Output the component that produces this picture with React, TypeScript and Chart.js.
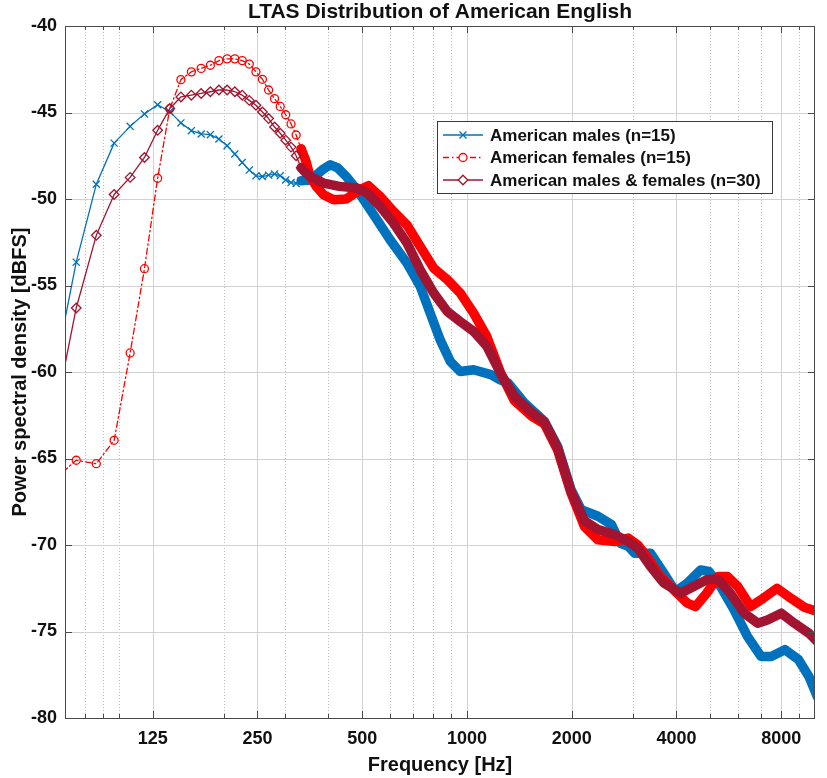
import React, { useEffect, useRef } from 'react';
import { Chart, registerables } from 'chart.js';

Chart.register(...registerables);

const TITLE = 'LTAS Distribution of American English';
const X_LABEL = 'Frequency [Hz]';
const Y_LABEL = 'Power spectral density [dBFS]';
const SERIES_LABELS = [
  'American males (n=15)',
  'American females (n=15)',
  'American males & females (n=30)',
];

const X_MIN = 70;
const X_MAX = 10000;
const Y_MIN = -80;
const Y_MAX = -40;
const X_MAJOR_TICKS = [125, 250, 500, 1000, 2000, 4000, 8000];
const X_MINOR_TICKS = [80, 90, 100, 200, 300, 400, 600, 700, 800, 900, 3000, 5000, 6000, 7000, 9000];
const Y_TICKS = [-80, -75, -70, -65, -60, -55, -50, -45, -40];

// low-frequency FFT bins (markers visible)
const LOW_BINS = [
  64.6, 75.4, 86.1, 96.9, 107.7, 118.4, 129.2, 140.0, 150.7, 161.5, 172.3, 183.1, 193.8,
  204.6, 215.3, 226.1, 236.9, 247.6, 258.4, 269.2, 280.0, 290.7, 301.5, 312.3, 323.0, 333.8,
];

const MALE_LOW_DB = [
  -60.5, -53.65, -49.15, -46.77, -45.8, -45.08, -44.55, -44.95, -45.6, -46.05, -46.24, -46.28, -46.53,
  -46.92, -47.4, -47.89, -48.33, -48.66, -48.7, -48.62, -48.55, -48.66, -48.9, -49.05, -49.1, -48.95,
];
const MALE_HIGH_FREQ = [
  355, 370, 385, 405, 425, 450, 483, 539, 601, 672, 734, 784, 837, 896, 956, 1045, 1172, 1246,
  1311, 1463, 1669, 1822, 1991, 2129, 2379, 2601, 2760, 2907, 3035, 3370, 3677, 3974, 4296, 4696,
  4955, 5357, 5849, 6396, 6995, 7487, 8193, 8970, 9603, 10170,
];
const MALE_HIGH_DB = [
  -48.9, -48.6, -48.3, -48.02, -48.2, -48.7, -49.46, -50.9, -52.35, -53.7, -55.05, -56.6, -58.13,
  -59.39, -59.97, -59.87, -60.15, -60.45, -60.63, -61.79, -62.85, -64.3, -66.8, -67.95, -68.34,
  -68.82, -69.9, -70.07, -70.48, -70.48, -71.63, -72.69, -72.2, -71.44, -71.53, -72.4, -73.74,
  -75.28, -76.44, -76.44, -76.05, -76.63, -77.6, -78.8,
];

const FEMALE_LOW_DB = [
  -66.3, -65.1, -65.3, -63.95, -58.9, -54.03, -48.8, -44.78, -43.1, -42.65, -42.45, -42.27, -42.0,
  -41.9, -41.9, -42.0, -42.2, -42.65, -43.08, -43.7, -44.2, -44.65, -45.13, -45.66, -46.3, -47.1,
];
const FEMALE_HIGH_FREQ = [
  344.5, 354, 370, 387, 414, 450, 493, 521, 563, 615, 672, 734, 802, 878, 956, 1045, 1140, 1252,
  1368, 1527, 1669, 1822, 1991, 2175, 2379, 2659, 2907, 3100, 3286, 3593, 3929, 4296, 4539, 4882,
  5272, 5600, 6000, 6534, 6995, 7780, 8530, 9320, 10170,
];
const FEMALE_HIGH_DB = [
  -47.8, -48.69, -49.3, -49.75, -50.04, -50.0, -49.46, -49.23, -49.85, -50.72, -51.49, -52.74,
  -53.99, -54.66, -55.43, -56.6, -57.94, -60.1, -61.65, -62.52, -63.0, -64.52, -67.0, -68.93,
  -69.7, -69.8, -69.6, -70.0, -70.67, -71.82, -72.6, -73.36, -73.56, -72.79, -71.82, -71.82,
  -72.4, -73.56, -73.17, -72.5, -73.08, -73.6, -73.85,
];

const ALL_LOW_DB = [
  -63.1, -56.3, -52.1, -49.74, -48.75, -47.6, -46.03, -44.77, -44.1, -44.0, -43.9, -43.8, -43.7,
  -43.7, -43.8, -44.0, -44.3, -44.58, -44.97, -45.35, -45.84, -46.2, -46.6, -47.0, -47.5, -48.2,
];
const ALL_HIGH_FREQ = [
  344.5, 354, 387, 430, 483, 517, 563, 615, 672, 734, 802, 878, 956, 1045, 1140, 1250, 1368, 1527,
  1669, 1822, 1991, 2175, 2379, 2659, 2907, 3100, 3370, 3677, 4108, 4482, 4902, 5272, 5716, 6254,
  6845, 7300, 8000, 8722, 9603, 10170,
];
const ALL_HIGH_DB = [
  -48.5, -48.69, -49.08, -49.27, -49.36, -49.65, -50.43, -51.39, -52.54, -54.09, -55.43, -56.5,
  -57.08, -57.65, -58.5, -60.1, -61.4, -62.3, -62.9, -64.4, -66.9, -68.6, -69.1, -69.4, -69.8,
  -70.2, -71.25, -72.2, -72.79, -72.4, -72.0, -72.0, -72.79, -73.94, -74.52, -74.33, -73.94,
  -74.52, -75.1, -75.6,
];

const BLUE = '#0072BD';
const RED = '#FF0000';
const MAROON = '#A2142F';
const FONT = "'Liberation Sans', Arial, Helvetica, sans-serif";
const THIN = 1.3;
const THICK = 9.5;
const MARKER_LIMIT = 340;
const DASH_DOT = [6, 3, 1.5, 3];

function makeDataset(
  label: string,
  freq: number[],
  db: number[],
  color: string,
  pointStyle: string,
  radius: number,
  dashed: boolean,
  order: number,
) {
  return {
    label,
    data: freq.map((f, i) => ({ x: f, y: db[i] })),
    borderColor: color,
    backgroundColor: 'rgba(0,0,0,0)',
    borderWidth: THIN,
    borderJoinStyle: 'round',
    borderCapStyle: 'round',
    pointStyle,
    pointRadius: (c: any) => {
      const f = freq[c.dataIndex];
      return f >= X_MIN && f < MARKER_LIMIT ? radius : 0;
    },
    pointBorderColor: color,
    pointBackgroundColor: 'rgba(0,0,0,0)',
    pointBorderWidth: 1.3,
    segment: {
      borderWidth: (c: any) => (freq[c.p0DataIndex] >= 333 ? THICK : THIN),
      borderDash: (c: any) => (dashed && freq[c.p0DataIndex] < 333 ? DASH_DOT : []),
    },
    tension: 0,
    order,
    clip: 0,
  };
}

function drawMarker(ctx: CanvasRenderingContext2D, kind: string, x: number, y: number, color: string) {
  ctx.save();
  ctx.strokeStyle = color;
  ctx.lineWidth = 1.3;
  ctx.setLineDash([]);
  ctx.beginPath();
  if (kind === 'x') {
    ctx.moveTo(x - 3.5, y - 3.5);
    ctx.lineTo(x + 3.5, y + 3.5);
    ctx.moveTo(x + 3.5, y - 3.5);
    ctx.lineTo(x - 3.5, y + 3.5);
  } else if (kind === 'o') {
    ctx.fillStyle = '#fff';
    ctx.arc(x, y, 4, 0, Math.PI * 2);
    ctx.fill();
  } else {
    ctx.fillStyle = '#fff';
    ctx.moveTo(x - 4.8, y);
    ctx.lineTo(x, y - 4.8);
    ctx.lineTo(x + 4.8, y);
    ctx.lineTo(x, y + 4.8);
    ctx.closePath();
    ctx.fill();
  }
  ctx.stroke();
  ctx.restore();
}

const matlabPlugin = {
  id: 'matlabStyle',
  beforeDatasetsDraw(chart: any) {
    const { ctx, chartArea: a, scales } = chart;
    const xs = scales.x;
    const ys = scales.y;
    ctx.save();
    ctx.lineWidth = 1;
    ctx.strokeStyle = '#bdbdbd';
    ctx.setLineDash([1, 2]);
    for (const v of X_MINOR_TICKS) {
      const px = Math.round(xs.getPixelForValue(v)) + 0.5;
      ctx.beginPath();
      ctx.moveTo(px, a.top);
      ctx.lineTo(px, a.bottom);
      ctx.stroke();
    }
    ctx.setLineDash([]);
    ctx.strokeStyle = '#d2d2d2';
    for (const v of X_MAJOR_TICKS) {
      const px = Math.round(xs.getPixelForValue(v)) + 0.5;
      ctx.beginPath();
      ctx.moveTo(px, a.top);
      ctx.lineTo(px, a.bottom);
      ctx.stroke();
    }
    for (const v of Y_TICKS) {
      const py = Math.round(ys.getPixelForValue(v)) + 0.5;
      ctx.beginPath();
      ctx.moveTo(a.left, py);
      ctx.lineTo(a.right, py);
      ctx.stroke();
    }
    ctx.restore();
  },
  afterDatasetsDraw(chart: any) {
    const { ctx, chartArea: a, scales } = chart;
    const xs = scales.x;
    const ys = scales.y;
    ctx.save();
    ctx.setLineDash([]);
    ctx.lineWidth = 1;
    ctx.strokeStyle = '#4a4a4a';
    // tick marks
    ctx.beginPath();
    for (const v of X_MAJOR_TICKS) {
      const px = Math.round(xs.getPixelForValue(v)) + 0.5;
      ctx.moveTo(px, a.bottom);
      ctx.lineTo(px, a.bottom - 7);
      ctx.moveTo(px, a.top);
      ctx.lineTo(px, a.top + 7);
    }
    for (const v of X_MINOR_TICKS) {
      const px = Math.round(xs.getPixelForValue(v)) + 0.5;
      ctx.moveTo(px, a.bottom);
      ctx.lineTo(px, a.bottom - 4);
      ctx.moveTo(px, a.top);
      ctx.lineTo(px, a.top + 4);
    }
    for (const v of Y_TICKS) {
      const py = Math.round(ys.getPixelForValue(v)) + 0.5;
      ctx.moveTo(a.left, py);
      ctx.lineTo(a.left + 7, py);
      ctx.moveTo(a.right, py);
      ctx.lineTo(a.right - 7, py);
    }
    ctx.stroke();
    // box
    ctx.strokeRect(Math.round(a.left) + 0.5, Math.round(a.top) + 0.5, Math.round(a.right - a.left) - 1, Math.round(a.bottom - a.top));

    // legend
    const lx = 437.5;
    const ly = 121.5;
    const lw = 335;
    const lh = 72;
    ctx.fillStyle = '#ffffff';
    ctx.fillRect(lx, ly, lw, lh);
    ctx.strokeStyle = '#3a3a3a';
    ctx.strokeRect(lx, ly, lw, lh);
    const rows = [135, 157.5, 180];
    const colors = [BLUE, RED, MAROON];
    const kinds = ['x', 'o', 'd'];
    for (let i = 0; i < 3; i++) {
      const y = rows[i];
      ctx.strokeStyle = colors[i];
      ctx.lineWidth = 1.3;
      ctx.setLineDash(i === 1 ? DASH_DOT : []);
      ctx.beginPath();
      ctx.moveTo(443, y);
      ctx.lineTo(483, y);
      ctx.stroke();
      drawMarker(ctx, kinds[i], 463, y, colors[i]);
      ctx.fillStyle = '#111';
      ctx.font = `bold 17px ${FONT}`;
      ctx.textAlign = 'left';
      ctx.textBaseline = 'middle';
      ctx.fillText(SERIES_LABELS[i], 490, y + 1);
    }
    ctx.restore();
  },
  afterDraw(chart: any) {
    const { ctx, chartArea: a } = chart;
    ctx.save();
    ctx.fillStyle = '#111';
    ctx.font = `bold 21px ${FONT}`;
    ctx.textAlign = 'center';
    ctx.textBaseline = 'alphabetic';
    ctx.fillText(TITLE, (a.left + a.right) / 2, 18);
    ctx.restore();
  },
};

export default function App() {
  const canvasRef = useRef<HTMLCanvasElement | null>(null);

  useEffect(() => {
    if (!canvasRef.current) return;
    Chart.defaults.font.family = FONT;
    const chart = new Chart(canvasRef.current, {
      type: 'line',
      data: {
        datasets: [
          makeDataset(SERIES_LABELS[0], [...LOW_BINS, ...MALE_HIGH_FREQ], [...MALE_LOW_DB, ...MALE_HIGH_DB], BLUE, 'crossRot', 5, false, 2),
          makeDataset(SERIES_LABELS[1], [...LOW_BINS, ...FEMALE_HIGH_FREQ], [...FEMALE_LOW_DB, ...FEMALE_HIGH_DB], RED, 'circle', 4, true, 1),
          makeDataset(SERIES_LABELS[2], [...LOW_BINS, ...ALL_HIGH_FREQ], [...ALL_LOW_DB, ...ALL_HIGH_DB], MAROON, 'rectRot', 4.8, false, 0),
        ] as any,
      },
      options: {
        animation: false,
        responsive: true,
        maintainAspectRatio: false,
        events: [],
        layout: { padding: { top: 26, right: 12, bottom: 0, left: 0 } },
        plugins: {
          legend: { display: false },
          title: { display: false },
          tooltip: { enabled: false },
        },
        scales: {
          x: {
            type: 'logarithmic',
            min: X_MIN,
            max: X_MAX,
            grid: { display: false, drawTicks: false, tickLength: 0 },
            border: { display: false },
            ticks: {
              autoSkip: false,
              maxRotation: 0,
              minRotation: 0,
              padding: 10,
              color: '#111',
              font: { size: 18, weight: 'bold' },
              callback: (v: any) => String(v),
            },
            afterBuildTicks: (s: any) => {
              s.ticks = X_MAJOR_TICKS.map((v) => ({ value: v }));
            },
            afterFit: (s: any) => {
              s.height = 60;
            },
            title: {
              display: true,
              text: X_LABEL,
              color: '#111',
              font: { size: 20, weight: 'bold' },
              padding: { top: 0, bottom: 1 },
            },
          },
          y: {
            type: 'linear',
            min: Y_MIN,
            max: Y_MAX,
            grid: { display: false, drawTicks: false, tickLength: 0 },
            border: { display: false },
            ticks: {
              padding: 8,
              color: '#111',
              font: { size: 18, weight: 'bold' },
            },
            afterBuildTicks: (s: any) => {
              s.ticks = Y_TICKS.map((v) => ({ value: v }));
            },
            afterFit: (s: any) => {
              s.width = 65;
            },
            title: {
              display: true,
              text: Y_LABEL,
              color: '#111',
              font: { size: 20, weight: 'bold' },
              padding: { top: 8, bottom: 0 },
            },
          },
        },
      } as any,
      plugins: [matlabPlugin],
    });
    return () => chart.destroy();
  }, []);

  return (
    <div style={{ position: 'absolute', left: 0, top: 0, width: 827, height: 778, background: '#fff' }}>
      <canvas ref={canvasRef} />
    </div>
  );
}
